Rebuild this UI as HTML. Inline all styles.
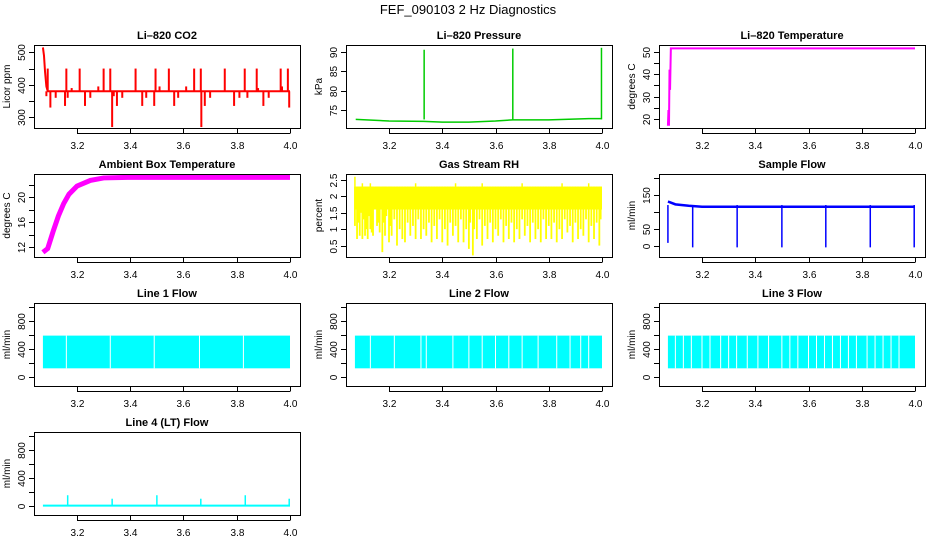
<!DOCTYPE html>
<html><head><meta charset="utf-8"><style>
body{margin:0;background:#fff}
svg{display:block;font-family:"Liberation Sans",sans-serif}
</style></head><body>
<svg id="c" width="936" height="540" viewBox="0 0 936 540">
<text x="468" y="14" text-anchor="middle" font-size="13">FEF_090103  2 Hz Diagnostics</text>
</svg>
<script>
const co2Spikes=[[3.085,365],[3.09,450],[3.1,330],[3.12,360],[3.155,335],[3.16,450],[3.165,360],[3.18,390],[3.21,450],[3.23,335],[3.25,360],[3.28,395],[3.3,450],[3.325,450],[3.332,270],[3.338,365],[3.35,335],[3.37,360],[3.42,450],[3.445,335],[3.46,360],[3.49,335],[3.495,450],[3.51,395],[3.545,450],[3.565,335],[3.58,360],[3.61,395],[3.64,450],[3.665,450],[3.667,270],[3.68,335],[3.7,360],[3.755,450],[3.79,335],[3.81,360],[3.83,450],[3.84,360],[3.875,450],[3.88,390],[3.9,335],[3.92,360],[3.965,450],[3.97,395],[3.992,450],[3.997,330]];
const co2Start=[[3.072,515],[3.076,490],[3.08,440],[3.085,395],[3.09,380]];
const co2Base=380;
const presBase=[[3.075,72.6],[3.2,72.2],[3.33,72.1],[3.4,71.9],[3.5,71.9],[3.6,72.2],[3.665,72.5],[3.8,72.5],[3.95,72.8],[3.998,72.8]];
const presSpikes=[[3.332,90.5],[3.665,90.8],[3.998,91]];
const tempSeries=[[3.072,17],[3.074,24],[3.076,17],[3.078,42],[3.08,33],[3.083,51.5],[4.0,51.5]];
const ambSeries=[[3.072,11.2],[3.09,11.8],[3.11,14.5],[3.13,17],[3.15,19],[3.17,20.5],[3.2,21.8],[3.25,22.7],[3.3,23.1],[3.4,23.2],[3.6,23.2],[3.8,23.2],[4.0,23.2]];
const rhTop=2.3;
const rhLows=[[3.072,1.1],[3.08,0.7],[3.085,1.2],[3.09,0.8],[3.095,1.5],[3.1,0.7],[3.105,1.3],[3.11,0.8],[3.115,1.0],[3.12,0.7],[3.125,1.4],[3.13,1.0],[3.135,0.9],[3.14,0.8],[3.15,1.6],[3.155,1.1],[3.16,1.2],[3.165,0.9],[3.175,0.3],[3.18,1.2],[3.185,0.8],[3.19,1.4],[3.2,0.6],[3.205,1.1],[3.21,0.8],[3.22,1.3],[3.23,0.5],[3.24,1.0],[3.25,0.7],[3.26,0.6],[3.27,1.2],[3.28,0.8],[3.29,1.1],[3.3,0.7],[3.31,1.3],[3.32,0.7],[3.33,1.0],[3.34,0.8],[3.35,1.2],[3.36,0.6],[3.37,1.1],[3.38,0.7],[3.39,1.3],[3.4,0.6],[3.41,1.0],[3.42,0.5],[3.43,1.2],[3.44,0.8],[3.45,1.1],[3.46,0.6],[3.47,1.3],[3.48,0.6],[3.49,1.0],[3.5,0.4],[3.505,1.2],[3.515,0.2],[3.52,1.0],[3.53,0.7],[3.54,1.3],[3.55,0.5],[3.56,1.1],[3.57,0.7],[3.58,1.2],[3.59,0.6],[3.6,1.0],[3.61,0.8],[3.62,1.3],[3.63,0.6],[3.64,1.1],[3.65,0.7],[3.66,1.2],[3.67,0.6],[3.68,1.0],[3.69,0.7],[3.7,1.3],[3.71,0.8],[3.72,1.1],[3.73,0.6],[3.74,1.2],[3.75,0.7],[3.76,1.0],[3.77,0.6],[3.78,1.3],[3.79,0.7],[3.8,1.1],[3.81,0.7],[3.82,1.2],[3.83,0.6],[3.84,1.0],[3.85,0.7],[3.86,1.3],[3.87,0.9],[3.88,1.1],[3.89,0.6],[3.9,1.2],[3.91,0.7],[3.92,1.0],[3.93,0.8],[3.94,1.3],[3.95,0.6],[3.96,1.1],[3.97,0.7],[3.98,1.2],[3.99,0.5],[3.995,1.3]];
const rhHighs=[[3.072,2.6],[3.1,2.4],[3.13,2.4],[3.3,2.4],[3.45,2.4],[3.55,2.4],[3.7,2.4],[3.85,2.4],[3.95,2.4]];
const flowSeries=[[3.072,130],[3.08,128],[3.1,122],[3.15,118],[3.2,115],[4.0,115]];
const flowDrops=[[3.072,10],[3.165,-3],[3.332,-3],[3.5,-3],[3.665,-3],[3.832,-3],[3.997,-3]];
const lineBand=[120,590];
const line1Gaps=[3.16,3.325,3.49,3.66,3.825];
const line2Gaps=[3.13,3.22,3.32,3.34,3.44,3.5,3.55,3.6,3.65,3.7,3.76,3.83,3.88,3.92,3.95];
const line3Gaps=[3.1,3.13,3.16,3.2,3.23,3.27,3.3,3.33,3.37,3.41,3.45,3.5,3.53,3.56,3.6,3.63,3.66,3.69,3.72,3.75,3.78,3.82,3.85,3.88,3.91,3.94];
const line4Spikes=[[3.165,150],[3.332,100],[3.5,150],[3.665,100],[3.832,150],[3.997,100]];
const xTicks=[3.2,3.4,3.6,3.8,4.0];
const xTickLabels=["3.2","3.4","3.6","3.8","4.0"];

const NS="http://www.w3.org/2000/svg",S=document.getElementById('c');
function el(tag,at,parent){const e=document.createElementNS(NS,tag);for(const k in at)e.setAttribute(k,at[k]);(parent||S).appendChild(e);return e;}
const panels=[
 {n:"co2",t:"Li\u2013820 CO2",yl:"Licor ppm",c:0,r:0,lo:267.1,hi:522.5,ticks:[300,350,400,450,500],lab:[300,400,500],col:"#f00"},
 {n:"pressure",t:"Li\u2013820 Pressure",yl:"kPa",c:1,r:0,lo:70.4,hi:91.72,ticks:[75,80,85,90],lab:[75,80,85,90],col:"#0c0"},
 {n:"temperature",t:"Li\u2013820 Temperature",yl:"degrees C",c:2,r:0,lo:16,hi:53,ticks:[20,25,30,35,40,45,50],lab:[20,30,40,50],col:"#f0f"},
 {n:"ambient",t:"Ambient Box Temperature",yl:"degrees C",c:0,r:1,lo:10.45,hi:23.73,ticks:[12,14,16,18,20,22],lab:[12,16,20],col:"#f0f"},
 {n:"rh",t:"Gas Stream RH",yl:"percent",c:1,r:1,lo:0.152,hi:2.683,ticks:[0.5,1,1.5,2,2.5],lab:[0.5,1,1.5,2,2.5],col:"#ff0"},
 {n:"sample-flow",t:"Sample Flow",yl:"ml/min",c:2,r:1,lo:-31,hi:210.2,ticks:[0,50,100,150,200],lab:[0,50,150],col:"#00f"},
 {n:"line1",t:"Line 1 Flow",yl:"ml/min",c:0,r:2,lo:-134,hi:1058.6,ticks:[0,200,400,600,800,1000],lab:[0,400,800],col:"#0ff"},
 {n:"line2",t:"Line 2 Flow",yl:"ml/min",c:1,r:2,lo:-134,hi:1058.6,ticks:[0,200,400,600,800,1000],lab:[0,400,800],col:"#0ff"},
 {n:"line3",t:"Line 3 Flow",yl:"ml/min",c:2,r:2,lo:-134,hi:1058.6,ticks:[0,200,400,600,800,1000],lab:[0,400,800],col:"#0ff"},
 {n:"line4",t:"Line 4 (LT) Flow",yl:"ml/min",c:0,r:3,lo:-134,hi:1058.6,ticks:[0,200,400,600,800,1000],lab:[0,400,800],col:"#0ff"}
];
const W=266,H=83;
panels.forEach(p=>{
 const L=34+312*p.c+(p.c==2?1:0),T=45+129*p.r;
 p.X=t=>L+43+(t-3.2)*266.25;
 p.Y=v=>T+H-(v-p.lo)/(p.hi-p.lo)*H;
 const g=el('g',{});
 
 
 p.g=el('g',{},g);
 
 
 const box=el('rect',{x:L+.5,y:T+.5,width:W,height:H,fill:'none',stroke:'#000'},g);
 
 
 const tt=el('text',{x:L+W/2,y:T-6,'text-anchor':'middle','font-size':11,'font-weight':'bold'},g);tt.textContent=p.t;
 
 
 const yl=el('text',{transform:`translate(${L-24},${T+H/2}) rotate(-90)`,'text-anchor':'middle','font-size':10},g);yl.textContent=p.yl;
 
 
 const ay=el('g',{},g);
 
 
 el('line',{x1:L+.5,x2:L+.5,y1:p.Y(p.ticks[0]),y2:p.Y(p.ticks[p.ticks.length-1]),stroke:'#000'},ay);
 p.ticks.forEach(v=>{const y=Math.round(p.Y(v))+.5;el('line',{x1:L-5,x2:L,y1:y,y2:y,stroke:'#000'},ay);
  if(p.lab.includes(v)){const t=el('text',{transform:`translate(${L-9},${y}) rotate(-90)`,'text-anchor':'middle','font-size':10},ay);t.textContent=String(v);}});
 const ax=el('g',{},g);
 
 
 el('line',{x1:p.X(3.2),x2:p.X(4.0),y1:T+H+5.5,y2:T+H+5.5,stroke:'#000'},ax);
 xTicks.forEach((v,i)=>{const x=Math.round(p.X(v))+.5;el('line',{x1:x,x2:x,y1:T+H+1,y2:T+H+5.5,stroke:'#000'},ax);
  const t=el('text',{x:x,y:T+H+21,'text-anchor':'middle','font-size':10},ax);t.textContent=xTickLabels[i];});
 p.L=L;p.T=T;
});
const P={};panels.forEach(p=>P[p.n]=p);
function poly(p,pts,w,nm){const e=el('polyline',{points:pts.map(q=>p.X(q[0])+','+p.Y(q[1])).join(' '),fill:'none',stroke:p.col,'stroke-width':w},p.g);return e;}
function vline(p,t,a,b,w,nm){const e=el('line',{x1:p.X(t),x2:p.X(t),y1:p.Y(a),y2:p.Y(b),stroke:p.col,'stroke-width':w},p.g);return e;}
function band(p,t0,t1,a,b,nm){const e=el('rect',{x:p.X(t0),y:p.Y(b),width:p.X(t1)-p.X(t0),height:p.Y(a)-p.Y(b),fill:p.col},p.g);return e;}
let p=P.co2;
poly(p,co2Start.concat([[4.0,co2Base]]),2,'co2-line');
co2Spikes.forEach(s=>vline(p,s[0],co2Base,s[1],2,'co2-spike'));
p=P.pressure;poly(p,presBase,1.5,'pressure-line');
presSpikes.forEach(s=>vline(p,s[0],presBase[0][1],s[1],1.5,'pressure-spike'));
p=P.temperature;poly(p,tempSeries,2,'temperature-line');
p=P.ambient;poly(p,ambSeries,5,'ambient-line');
p=P.rh;band(p,3.072,4.0,1.6,rhTop,'rh-band');
rhLows.forEach(s=>vline(p,s[0],rhTop,s[1],1.8,'rh-spike'));
rhHighs.forEach(s=>vline(p,s[0],rhTop,s[1],1.5,'rh-spike-up'));
p=P['sample-flow'];poly(p,flowSeries,2.5,'sample-flow-line');
flowDrops.forEach(s=>vline(p,s[0],flowSeries[0][1]-10,s[1],1.5,'sample-flow-drop'));
[['line1',line1Gaps],['line2',line2Gaps],['line3',line3Gaps]].forEach(([n,gaps])=>{
 const q=P[n];band(q,3.072,4.0,lineBand[0],lineBand[1],n+'-band');
 gaps.forEach(t=>{const e=el('line',{x1:q.X(t),x2:q.X(t),y1:q.Y(lineBand[1]),y2:q.Y(lineBand[0]),stroke:'#fff','stroke-width':1},q.g);
  
  });
});
p=P.line4;poly(p,[[3.072,0],[4.0,0]],2,'line4-line');
line4Spikes.forEach(s=>vline(p,s[0],0,s[1],1.5,'line4-spike'));
</script>
</body></html>
